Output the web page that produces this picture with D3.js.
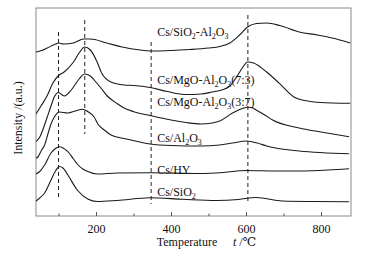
<!DOCTYPE html>
<html>
<head>
<meta charset="utf-8">
<script src="https://cdn.jsdelivr.net/npm/d3@7"></script>
<style>
  body { margin: 0; background: #fff; }
  svg text { font-family: "Liberation Serif", "Times New Roman", "DejaVu Serif", serif; fill: #111; }
</style>
</head>
<body>
<script>
// TPD curves, temperature (°C) vs intensity (a.u., stacked offsets)
const tSiAl = [40, 55, 70, 92, 100, 114, 140, 167, 185, 229, 270, 318, 344, 400, 450, 500, 530, 557, 583, 604, 628, 655, 690, 742, 790, 830, 878];
const vSiAl = [164, 165.5, 168, 172, 173, 172, 173, 177, 177, 173, 169, 166, 165, 165.5, 166.5, 168, 169.5, 173, 181, 189, 192.5, 193, 190.5, 184, 181, 178, 173];

const tMg73 = [40, 55, 70, 85, 100, 115, 140, 155, 170, 185, 203, 215, 240, 275, 300, 344, 390, 440, 480, 510, 535, 557, 575, 590, 605, 620, 655, 689, 733, 777, 830, 878];
const vMg73 = [102, 111, 120.5, 133, 140.5, 144, 154, 163, 169, 166, 154, 143, 134, 131, 130.5, 128.5, 124.5, 121.5, 122, 124, 126, 130, 139, 148, 154, 153, 144, 132.7, 118, 114.3, 113, 112.7];

const tMg37 = [40, 50, 60, 70, 80, 90, 100, 108, 116, 134, 155, 169, 185, 195, 211, 230, 256, 275, 299, 344, 400, 440, 480, 510, 530, 564, 590, 603, 615, 627, 650, 671, 742, 800, 875];
const vMg37 = [74.3, 79, 88, 99, 110, 120, 123.5, 121.5, 120, 126, 137, 142, 140, 136, 129, 120, 112.5, 108, 104.5, 100.5, 96, 93.5, 92, 93, 95, 103, 107.5, 108.7, 108.5, 106, 101, 96, 88, 84, 79.3];

const tAl = [40, 45, 55, 63, 71, 80, 89, 102, 125, 145, 164, 180, 195, 205, 222, 240, 275, 344, 400, 477, 530, 564, 601, 630, 655, 742, 875];
const vAl = [58, 59, 66, 71, 81, 92, 99, 104, 103, 105, 106.7, 104, 99, 92, 86, 81, 77.5, 72, 70.5, 70, 71, 73, 75, 73, 70, 65, 62.3];

const tHY = [40, 50, 63, 80, 92, 102, 112, 125, 140, 151, 165, 178, 203, 256, 344, 477, 540, 601, 680, 742, 820, 875];
const vHY = [42, 44.5, 51, 63, 67.5, 69.3, 68, 64.3, 57, 51.5, 47, 44.5, 42, 43, 43.3, 42.5, 43.5, 45.5, 45, 45, 46, 47.3];

const tSi = [40, 50, 63, 80, 92, 102, 112, 125, 150, 178, 203, 256, 344, 432, 521, 580, 627, 697, 780, 875];
const vSi = [15, 18, 23, 36, 45, 49.5, 48, 41, 26, 17, 14.5, 15.5, 18.3, 16.7, 15.5, 16.5, 18.5, 15, 14.5, 14.3];

// label parts: [text, isSubscript]
const labelParts = [
    [["Cs/SiO", 0], ["2", 1], ["-Al", 0], ["2", 1], ["O", 0], ["3", 1]],
    [["Cs/MgO-Al", 0], ["2", 1], ["O", 0], ["3", 1], ["(7:3)", 0]],
    [["Cs/MgO-Al", 0], ["2", 1], ["O", 0], ["3", 1], ["(3:7)", 0]],
    [["Cs/Al", 0], ["2", 1], ["O", 0], ["3", 1]],
    [["Cs/HY", 0]],
    [["Cs/SiO", 0], ["2", 1]]
];
const labelLevels = [180, 132, 110, 74, 42, 20];

// dashed reference temperatures and their vertical extents (a.u.)
const refTemps = [100, 170, 347, 605];
const refTop = [184, 196, 174, 201];
const refBottom = [16, 82, 12, 12];

const xTicks = [200, 400, 600, 800];
const xMinor = [100, 300, 500, 700];

const series = [
    { t: tSiAl, v: vSiAl }, { t: tMg73, v: vMg73 }, { t: tMg37, v: vMg37 },
    { t: tAl, v: vAl }, { t: tHY, v: vHY }, { t: tSi, v: vSi }
];

const FONT = "'Liberation Serif', 'Times New Roman', 'DejaVu Serif', serif";

const W = 365, H = 262;
const margin = { top: 8, right: 14, bottom: 46, left: 36 };
const width = W - margin.left - margin.right;
const height = H - margin.top - margin.bottom;

const svg = d3.select("body").append("svg")
    .attr("width", W)
    .attr("height", H)
    .style("font-family", FONT);

const g = svg.append("g")
    .attr("transform", `translate(${margin.left},${margin.top})`);

const x = d3.scaleLinear().domain([40, 880]).range([0, width]);
const y = d3.scaleLinear().domain([0, 208]).range([height, 0]);

g.append("clipPath").attr("id", "clip")
    .append("rect").attr("width", width).attr("height", height);

// frame
g.append("rect")
    .attr("width", width)
    .attr("height", height)
    .attr("fill", "none")
    .attr("stroke", "#8a8a8a")
    .attr("stroke-width", 1);

// x axis, ticks pointing inward
const xAxis = g.append("g")
    .attr("transform", `translate(0,${height})`)
    .call(d3.axisBottom(x).tickValues(xTicks).tickSizeInner(-4).tickSizeOuter(0).tickPadding(8));
xAxis.attr("font-family", null);
xAxis.select(".domain").remove();
xAxis.selectAll("line").attr("stroke", "#555");
xAxis.selectAll("text")
    .attr("font-size", "12px")
    .style("font-family", FONT)
    .attr("fill", "#111");

g.append("g")
    .attr("transform", `translate(0,${height})`)
    .call(d3.axisBottom(x).tickValues(xMinor).tickSizeInner(-2.5).tickSizeOuter(0).tickFormat(""))
    .call(a => a.select(".domain").remove())
    .selectAll("line").attr("stroke", "#555");

// dashed reference lines
refTemps.forEach((t, i) => {
    g.append("line")
        .attr("x1", x(t)).attr("x2", x(t))
        .attr("y1", y(refTop[i])).attr("y2", y(refBottom[i]))
        .attr("stroke", "#222")
        .attr("stroke-width", 1)
        .attr("stroke-dasharray", "4,3");
});

// curves
const line = d3.line()
    .x(d => x(d[0]))
    .y(d => y(d[1]))
    .curve(d3.curveMonotoneX);

series.forEach(s => {
    g.append("path")
        .datum(s.t.map((t, i) => [t, s.v[i]]))
        .attr("clip-path", "url(#clip)")
        .attr("fill", "none")
        .attr("stroke", "#1a1a1a")
        .attr("stroke-width", 1.1)
        .attr("d", line);
});

// series labels
labelParts.forEach((parts, i) => {
    const txt = g.append("text")
        .attr("x", x(363))
        .attr("y", y(labelLevels[i]))
        .attr("font-size", "12px")
        .style("font-family", FONT);
    let prevSub = false;
    parts.forEach(p => {
        const sub = !!p[1];
        const dy = sub ? (prevSub ? 0 : 3) : (prevSub ? -3 : 0);
        txt.append("tspan")
            .attr("font-size", sub ? "8px" : "12px")
            .attr("dy", dy)
            .text(p[0]);
        prevSub = sub;
    });
});

// axis titles
svg.append("text")
    .attr("x", 187)
    .attr("y", 246)
    .attr("text-anchor", "middle")
    .attr("font-size", "12px")
    .style("font-family", FONT)
    .text("Temperature");

const unit = svg.append("text")
    .attr("x", 233)
    .attr("y", 246)
    .attr("font-size", "12px")
    .style("font-family", FONT);
unit.append("tspan").attr("font-style", "italic").text("t");
unit.append("tspan").text(" /\u2103");

svg.append("text")
    .attr("transform", "rotate(-90)")
    .attr("x", -118)
    .attr("y", 22)
    .attr("text-anchor", "middle")
    .attr("font-size", "12px")
    .style("font-family", FONT)
    .text("Intensity /(a.u.)");
</script>
</body>
</html>
